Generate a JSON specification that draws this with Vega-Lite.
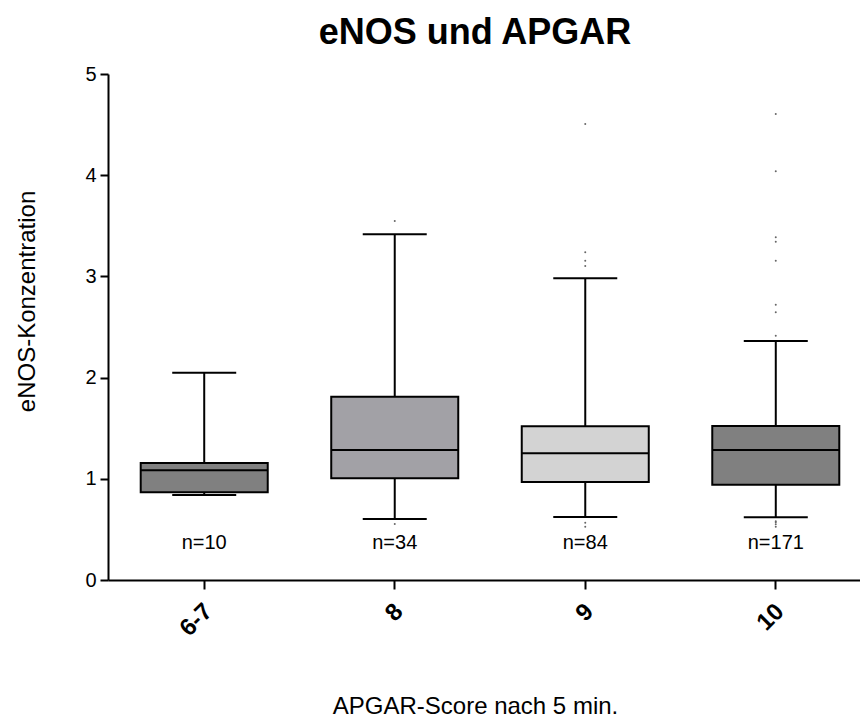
{
  "$schema": "https://vega.github.io/schema/vega-lite/v6.json",
  "autosize": "none",
  "width": 764,
  "height": 506,
  "padding": {"left": 108, "top": 74, "right": 0, "bottom": 138},
  "background": "white",
  "config": {
    "view": {"stroke": null},
    "font": "Liberation Sans",
    "axis": {"grid": false, "domainColor": "black", "domainWidth": 2, "tickColor": "black", "tickWidth": 2, "labelColor": "black", "titleColor": "black", "labelFont": "Liberation Sans", "titleFont": "Liberation Sans"}
  },
  "title": {"text": "eNOS und APGAR", "fontSize": 36, "fontWeight": "bold", "font": "Liberation Sans", "color": "black", "anchor": "middle", "dx": -15, "offset": 12},
  "datasets": {
    "boxes": [
      {"score": "6-7", "lower": 0.84, "q1": 0.867, "median": 1.084, "q3": 1.156, "upper": 2.048, "n": "n=10"},
      {"score": "8", "lower": 0.603, "q1": 1.005, "median": 1.285, "q3": 1.811, "upper": 3.416, "n": "n=34"},
      {"score": "9", "lower": 0.623, "q1": 0.968, "median": 1.252, "q3": 1.519, "upper": 2.981, "n": "n=84"},
      {"score": "10", "lower": 0.62, "q1": 0.942, "median": 1.285, "q3": 1.522, "upper": 2.362, "n": "n=171"}
    ],
    "outliers": [
      {"score": "8", "value": 3.547},
      {"score": "8", "value": 0.553},
      {"score": "9", "value": 4.506},
      {"score": "9", "value": 3.238},
      {"score": "9", "value": 3.155},
      {"score": "9", "value": 3.103},
      {"score": "9", "value": 0.566},
      {"score": "9", "value": 0.527},
      {"score": "10", "value": 4.605},
      {"score": "10", "value": 4.038},
      {"score": "10", "value": 3.386},
      {"score": "10", "value": 3.343},
      {"score": "10", "value": 3.155},
      {"score": "10", "value": 2.72},
      {"score": "10", "value": 2.645},
      {"score": "10", "value": 2.414},
      {"score": "10", "value": 0.58},
      {"score": "10", "value": 0.57},
      {"score": "10", "value": 0.55},
      {"score": "10", "value": 0.527}
    ]
  },
  "layer": [
    {
      "data": {"name": "boxes"},
      "mark": {"type": "rule", "color": "black", "strokeWidth": 2, "opacity": 1},
      "encoding": {
        "x": {
          "field": "score", "type": "nominal", "sort": ["6-7", "8", "9", "10"],
          "scale": {"type": "band", "paddingInner": 0.3333, "paddingOuter": 0.1717},
          "axis": {
            "title": "APGAR-Score nach 5 min.", "titleFontSize": 24, "titleFontWeight": "normal",
            "titleX": 367, "titleY": 133, "titleBaseline": "alphabetic", "titleAlign": "center",
            "labelAngle": -45, "labelAlign": "right", "labelBaseline": "top", "labelFontSize": 24, "labelFontWeight": "bold",
            "labelPadding": 10, "labelOffset": -4, "tickSize": 9
          }
        },
        "y": {
          "field": "lower", "type": "quantitative",
          "scale": {"domain": [0, 5], "nice": false},
          "axis": {
            "title": "eNOS-Konzentration", "titleFontSize": 24, "titleFontWeight": "normal",
            "titleAngle": -90, "titleX": -74, "titleY": 227, "titleBaseline": "alphabetic", "titleAlign": "center",
            "values": [0, 1, 2, 3, 4, 5], "format": "d", "labelFontSize": 20, "tickSize": 8, "labelPadding": 4
          }
        },
        "y2": {"field": "upper"}
      }
    },
    {
      "data": {"name": "boxes"},
      "mark": {"type": "tick", "color": "black", "size": 64, "thickness": 2, "opacity": 1},
      "encoding": {
        "x": {"field": "score", "type": "nominal", "sort": ["6-7", "8", "9", "10"]},
        "y": {"field": "lower", "type": "quantitative"}
      }
    },
    {
      "data": {"name": "boxes"},
      "mark": {"type": "tick", "color": "black", "size": 64, "thickness": 2, "opacity": 1},
      "encoding": {
        "x": {"field": "score", "type": "nominal", "sort": ["6-7", "8", "9", "10"]},
        "y": {"field": "upper", "type": "quantitative"}
      }
    },
    {
      "data": {"name": "boxes"},
      "mark": {"type": "bar", "stroke": "black", "strokeWidth": 2, "opacity": 1},
      "encoding": {
        "x": {"field": "score", "type": "nominal", "sort": ["6-7", "8", "9", "10"]},
        "y": {"field": "q1", "type": "quantitative"},
        "y2": {"field": "q3"},
        "fill": {
          "field": "score", "type": "nominal",
          "scale": {"domain": ["6-7", "8", "9", "10"], "range": ["#808080", "#a2a1a6", "#d3d3d3", "#808080"]},
          "legend": null
        }
      }
    },
    {
      "data": {"name": "boxes"},
      "mark": {"type": "tick", "color": "black", "size": 127, "thickness": 2, "opacity": 1},
      "encoding": {
        "x": {"field": "score", "type": "nominal", "sort": ["6-7", "8", "9", "10"]},
        "y": {"field": "median", "type": "quantitative"}
      }
    },
    {
      "data": {"name": "outliers"},
      "mark": {"type": "point", "filled": true, "size": 4, "color": "#666666", "opacity": 1},
      "encoding": {
        "x": {"field": "score", "type": "nominal", "sort": ["6-7", "8", "9", "10"]},
        "y": {"field": "value", "type": "quantitative"}
      }
    },
    {
      "data": {"name": "boxes"},
      "mark": {"type": "text", "fontSize": 20, "color": "black", "baseline": "middle", "align": "center"},
      "encoding": {
        "x": {"field": "score", "type": "nominal", "sort": ["6-7", "8", "9", "10"]},
        "y": {"datum": 0.365},
        "text": {"field": "n"}
      }
    }
  ]
}
